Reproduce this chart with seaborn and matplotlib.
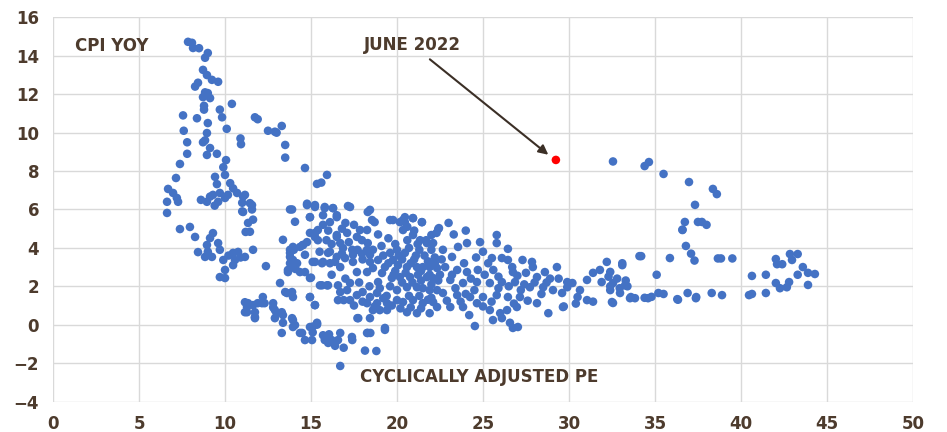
import matplotlib
matplotlib.use("Agg")
import matplotlib.pyplot as plt
import seaborn as sns
import pandas as pd

# (CAPE, CPI yoy) pairs, grouped roughly by region
left_arm = [
    (7.85, 14.73), (8.08, 14.68), (8.14, 14.41), (8.49, 14.4), (9.0, 14.15), (8.84, 13.9),
    (8.72, 13.27), (8.95, 13.0), (9.24, 12.75), (9.6, 12.65), (8.43, 12.6), (8.26, 12.4),
    (8.84, 12.1), (9.0, 12.06), (8.72, 11.85), (9.13, 11.8), (10.4, 11.5), (9.7, 11.2),
    (7.56, 10.9), (8.78, 11.4), (8.78, 11.2), (8.37, 10.75), (9.0, 10.5), (9.83, 10.8),
    (10.1, 10.2), (7.6, 10.1), (8.95, 9.98), (8.84, 9.6), (8.72, 9.5), (7.8, 9.5),
    (10.9, 9.7), (10.93, 9.4), (9.13, 9.2), (7.8, 8.9), (8.95, 8.84), (9.53, 8.9),
    (7.38, 8.37), (10.06, 8.57), (9.9, 8.2), (10.0, 7.8), (7.15, 7.64), (9.42, 7.7),
    (9.53, 7.32), (10.3, 7.37), (10.47, 7.1), (6.69, 7.07), (6.98, 6.86), (7.2, 6.6),
    (7.27, 6.4), (6.63, 6.4), (6.63, 5.82), (9.13, 6.67), (9.3, 6.76), (9.7, 6.86),
    (10.17, 6.76), (10.7, 6.86), (8.95, 6.4), (9.6, 6.4), (10.0, 6.6), (11.05, 6.67),
    (11.0, 6.35), (11.05, 5.87), (11.2, 4.83), (7.38, 4.98), (7.96, 5.09), (8.26, 4.57),
    (9.13, 4.51), (9.3, 4.77), (8.95, 4.15), (8.43, 3.78), (8.84, 3.53), (9.24, 3.53),
    (9.6, 4.25), (9.7, 3.9), (9.9, 3.37), (10.0, 2.85), (9.7, 2.48), (10.0, 2.43),
    (10.47, 3.74), (10.76, 3.79), (11.16, 3.53), (10.58, 3.37), (10.47, 3.1),
    (9.0, 3.8), (10.2, 3.6), (10.9, 3.5), (8.6, 6.5), (9.4, 6.2),
]

mid_left = [
    (11.74, 10.8), (11.9, 10.7), (12.5, 10.1), (12.9, 10.05), (13.3, 10.35), (13.0, 10.0),
    (13.5, 9.36), (13.5, 8.7), (14.65, 8.16), (15.93, 7.8), (15.35, 7.33), (15.6, 7.4),
    (11.45, 6.33), (11.57, 6.0), (11.63, 5.47), (11.34, 5.3), (11.45, 4.84), (11.63, 3.9),
    (11.0, 5.9), (11.16, 6.76), (11.57, 6.23), (13.9, 6.0), (14.07, 5.36), (13.37, 4.42),
    (13.78, 3.9), (13.78, 3.53), (13.66, 2.85), (14.07, 2.95), (12.38, 3.05), (13.2, 2.17),
    (13.6, 1.65), (13.95, 1.44), (12.2, 1.44), (11.34, 1.12), (11.63, 1.02), (11.9, 1.12),
    (12.3, 1.12), (11.28, 0.65), (11.74, 0.65), (12.8, 0.9), (13.0, 0.6), (13.37, 0.5),
    (11.74, 0.34), (13.37, 0.1), (13.9, 0.34), (14.07, -0.02), (11.16, 1.17), (11.28, 0.92),
    (13.78, 6.0), (14.77, 6.23), (15.23, 6.13), (14.94, 5.6), (15.8, 6.07), (16.28, 6.07),
    (16.5, 5.6), (15.4, 4.93), (15.23, 4.57), (16.5, 4.57), (14.53, 4.15), (13.95, 4.05),
    (13.78, 3.74), (13.78, 3.2), (14.19, 3.2), (14.36, 2.74), (13.66, 2.74), (14.65, 2.74),
    (14.94, 2.43), (15.1, 3.27), (15.64, 3.2), (15.99, 3.74), (16.5, 3.53), (16.1, 3.2),
    (15.52, 2.05), (15.99, 2.05), (13.5, 1.7), (13.9, 1.7), (14.94, 1.44), (16.57, 1.28),
    (15.23, 1.02), (11.16, 0.65), (12.15, 1.12), (12.8, 1.12), (11.74, 0.4), (12.9, 0.76),
    (13.3, 0.65), (12.9, 0.34), (13.95, 0.24), (13.95, -0.12), (15.35, 0.0), (15.1, -0.1),
]

low_tail = [
    (13.3, -0.43), (14.36, -0.43), (14.65, -0.8), (15.06, -0.8), (15.35, 0.1), (15.8, -0.8),
    (16.2, -0.8), (16.57, -0.8), (16.7, -0.43), (16.0, -0.95), (16.4, -1.1), (16.7, -2.15),
    (17.4, -0.8), (18.14, -1.35), (18.8, -1.37), (18.26, -0.43), (18.45, -0.43), (19.3, -0.27),
    (17.7, 0.34), (14.48, -0.43), (15.1, -0.4), (15.7, -0.55), (16.05, -0.5), (17.38, -0.64),
    (18.3, -0.43), (14.94, -0.12), (15.35, 0.05), (19.3, -0.17), (16.9, -1.2),
]

cloud = [
    (14.77, 6.3), (15.23, 6.23), (15.8, 6.13), (16.28, 6.07), (17.15, 6.18), (18.43, 5.98),
    (18.55, 5.45), (14.94, 5.6), (15.7, 5.7), (16.5, 5.7), (16.1, 5.34), (17.0, 5.3),
    (17.85, 4.93), (15.7, 5.2), (15.23, 4.78), (14.94, 4.78), (15.4, 4.4), (16.5, 4.67),
    (17.1, 4.78), (17.67, 4.57), (18.26, 4.93), (17.96, 4.4), (18.3, 4.25), (16.7, 4.25),
    (16.86, 3.99), (17.4, 3.9), (18.26, 3.9), (14.77, 4.3), (14.36, 4.05), (14.0, 3.9),
    (14.53, 4.15), (13.95, 3.37), (14.65, 3.64), (14.1, 2.9), (15.0, 2.45), (15.23, 3.27),
    (15.7, 3.27), (16.1, 3.8), (16.4, 3.27), (16.7, 3.0), (16.98, 3.47), (17.44, 3.27),
    (17.67, 2.74), (17.44, 3.64), (17.96, 3.7), (18.43, 3.64), (18.9, 3.37), (18.43, 3.27),
    (18.6, 2.95), (18.26, 2.74), (18.9, 2.22), (19.13, 2.69), (19.6, 3.74), (19.77, 3.37),
    (20.0, 3.9), (20.17, 5.34), (20.46, 5.34), (20.46, 5.6), (20.93, 5.55), (21.45, 5.34),
    (19.6, 5.45), (20.35, 4.93), (20.93, 4.67), (21.34, 4.4), (21.74, 4.25), (20.46, 3.74),
    (20.06, 3.1), (20.58, 3.0), (21.16, 3.0), (21.5, 3.0), (21.9, 3.0), (22.33, 2.95),
    (19.7, 2.43), (20.17, 2.48), (20.76, 2.48), (21.22, 2.6), (21.74, 2.48), (22.1, 2.43),
    (20.0, 1.8), (20.58, 1.95), (21.16, 1.95), (21.5, 1.9), (21.9, 1.8), (22.33, 1.8),
    (16.7, 1.7), (17.1, 1.8), (17.27, 1.28), (17.67, 1.54), (18.0, 1.7), (18.43, 1.44),
    (18.84, 1.65), (19.2, 1.38), (16.9, 1.28), (18.26, 1.12), (18.84, 1.12), (19.42, 1.12),
    (20.0, 1.28), (20.35, 1.18), (20.93, 1.28), (21.5, 1.12), (22.1, 1.18), (18.6, 0.76),
    (19.0, 0.76), (19.42, 0.76), (20.58, 0.65), (21.16, 0.6), (21.9, 0.6), (18.43, 0.34),
    (17.75, 0.34), (14.94, 1.44), (15.23, 1.02), (15.64, 2.05), (15.93, 2.05), (16.57, 2.05),
    (17.27, 2.17), (17.27, 6.13), (18.3, 5.87), (18.7, 5.34), (19.77, 5.45), (20.35, 5.45),
    (20.93, 5.55), (21.45, 5.34), (20.6, 5.1), (22.0, 4.67), (22.4, 4.98), (21.0, 4.9),
    (21.7, 4.4), (19.1, 4.1), (19.5, 4.5), (18.9, 4.7), (19.3, 3.0), (19.9, 2.8),
    (20.3, 2.2), (20.9, 2.2), (21.4, 2.3), (22.0, 2.1), (19.6, 2.0), (19.0, 1.9),
    (20.3, 3.4), (21.0, 3.4), (21.6, 3.6), (22.2, 3.5), (20.7, 4.0), (21.3, 3.9),
    (22.0, 3.9), (19.4, 1.5), (20.7, 1.5), (21.3, 1.5), (22.0, 1.4), (16.2, 2.6),
    (17.0, 2.4), (17.8, 2.2), (18.4, 2.0), (16.0, 4.9), (16.8, 5.0), (17.5, 5.2),
    (19.2, 3.6), (19.5, 3.2), (19.8, 2.6), (20.1, 3.6), (20.5, 2.7), (20.8, 3.2),
    (21.1, 3.6), (21.4, 2.8), (21.8, 3.3), (22.2, 3.2), (22.6, 3.4), (22.4, 2.3),
    (21.9, 2.6), (20.6, 4.4), (21.2, 4.2), (19.9, 4.2), (15.5, 3.8), (16.2, 4.2),
    (17.2, 4.3), (17.7, 3.9), (18.0, 3.4), (18.6, 3.9), (16.8, 3.7), (15.9, 4.4),
    (17.5, 1.0), (18.0, 1.2), (18.7, 0.95), (19.7, 1.0), (20.2, 0.85), (20.8, 0.9),
    (21.4, 0.85), (21.8, 1.3),
]

right_cloud = [
    (22.44, 5.03), (22.3, 4.78), (22.1, 4.25), (22.67, 3.9), (23.2, 3.53), (23.55, 4.05),
    (24.07, 4.25), (24.83, 4.3), (25.0, 3.8), (25.8, 4.67), (25.8, 4.25), (26.45, 3.95),
    (25.52, 3.47), (26.1, 3.47), (26.45, 3.37), (27.3, 3.37), (27.85, 3.27), (28.6, 2.74),
    (29.3, 3.0), (29.9, 2.22), (22.8, 3.0), (23.5, 2.85), (24.07, 2.74), (24.7, 2.85),
    (25.6, 2.85), (26.74, 2.74), (27.5, 2.7), (28.14, 2.48), (23.1, 2.33), (23.84, 2.17),
    (24.65, 2.22), (25.4, 2.17), (26.1, 2.22), (26.86, 2.22), (27.73, 1.95), (28.5, 1.95),
    (29.07, 1.8), (29.6, 1.65), (22.67, 1.65), (23.5, 1.54), (24.25, 1.44), (25.0, 1.44),
    (25.8, 1.54), (26.45, 1.44), (27.15, 1.44), (28.14, 1.12), (28.8, 0.6), (29.65, 0.92),
    (22.33, 0.92), (23.1, 0.92), (23.84, 0.92), (24.65, 1.12), (25.4, 0.76), (26.0, 0.6),
    (26.4, 0.76), (26.97, 0.92), (25.58, 0.24), (26.1, 0.34), (26.57, 0.1), (26.74, -0.17),
    (27.03, -0.12), (24.53, -0.07), (23.3, 4.7), (24.0, 4.9), (23.0, 5.3), (24.6, 3.5),
    (23.9, 3.2), (22.5, 2.6), (25.3, 3.2), (26.7, 3.0), (27.9, 3.0), (28.9, 2.4),
    (23.4, 1.9), (24.5, 1.8), (25.9, 1.9), (27.2, 1.8), (28.4, 1.6), (23.7, 1.2),
    (27.6, 1.25), (22.9, 1.25), (24.2, 0.5), (25.0, 0.95),
    (23.2, 2.6), (24.3, 2.4), (25.1, 2.6), (25.9, 2.5), (26.5, 2.0), (27.0, 2.55),
    (27.4, 2.1), (28.0, 2.2), (28.7, 2.2), (29.4, 2.4), (24.0, 1.6), (25.5, 1.2),
    (26.8, 1.1),
]

far_right = [
    (32.2, 3.27), (33.1, 3.2), (34.1, 3.57), (31.8, 2.85), (31.4, 2.7), (32.4, 2.75),
    (31.05, 2.33), (31.9, 2.22), (32.56, 2.17), (33.26, 2.05), (30.2, 2.17), (29.9, 1.95),
    (30.64, 1.8), (32.4, 1.8), (32.97, 1.65), (33.55, 1.38), (33.84, 1.38), (30.5, 1.44),
    (31.05, 1.28), (31.4, 1.2), (30.4, 1.1), (29.7, 0.95), (32.5, 1.18), (35.1, 2.6),
    (35.87, 3.47), (35.2, 1.65), (35.5, 1.6), (34.6, 1.38), (36.3, 1.33), (36.9, 1.65),
    (37.4, 1.44), (38.3, 1.65), (36.6, 4.93), (36.8, 4.1), (37.1, 3.7), (37.3, 3.34),
    (38.66, 3.45), (32.56, 8.5), (34.4, 8.26), (34.65, 8.47), (35.5, 7.85), (36.98, 7.43),
    (38.37, 7.07), (38.6, 6.8), (37.33, 6.24), (36.74, 5.35), (36.6, 4.95), (37.5, 5.35),
    (37.73, 5.35), (38.0, 5.2), (34.2, 3.57), (38.84, 3.45), (39.5, 3.45), (33.1, 3.1),
    (32.3, 2.5), (32.8, 2.4), (33.3, 2.3), (33.4, 2.0), (32.4, 2.0), (32.95, 1.9),
    (33.6, 1.44), (34.4, 1.4), (34.8, 1.45), (36.34, 1.3), (37.38, 1.38), (38.9, 1.54),
    (40.47, 1.54), (40.64, 1.6), (41.45, 1.65), (40.64, 2.54), (41.45, 2.6), (42.03, 2.17),
    (42.27, 1.9), (42.67, 1.95), (42.8, 2.22), (43.3, 2.6), (43.9, 2.07), (42.03, 3.42),
    (42.1, 3.15), (42.4, 3.15), (42.85, 3.68), (42.97, 3.37), (43.3, 3.68), (43.6, 3.0),
    (43.9, 2.7), (44.3, 2.64), (32.56, 1.13),
]

june_2022_cape = [29.24]
june_2022_cpi = [8.58]

pts = left_arm + mid_left + low_tail + cloud + right_cloud + far_right
df = pd.DataFrame(pts, columns=["cape", "cpi"])
red = pd.DataFrame({"cape": june_2022_cape, "cpi": june_2022_cpi})

sns.set_theme(style="white")
plt.rcParams["font.family"] = ["DejaVu Sans"]
brown = "#4d3b2d"

fig = plt.figure(figsize=(9.47, 4.32), dpi=100)
ax = fig.add_axes([0.056, 0.0706, 0.908, 0.889])

sns.scatterplot(data=df, x="cape", y="cpi", ax=ax, color="#4472C4", s=38,
                edgecolor="none", zorder=3, legend=False)
sns.scatterplot(data=red, x="cape", y="cpi", ax=ax, color="#FF0000", s=38,
                edgecolor="none", zorder=4, legend=False)

ax.set_xlim(0, 50)
ax.set_ylim(-4, 16)
ax.set_xticks(range(0, 51, 5))
ax.set_yticks(range(-4, 17, 2))
ax.grid(True, color="#d9d9d9", linewidth=1)
ax.set_axisbelow(True)
for s in ax.spines.values():
    s.set_visible(False)
ax.tick_params(length=0, labelsize=12, labelcolor=brown, pad=10)
for lab in ax.get_xticklabels() + ax.get_yticklabels():
    lab.set_fontweight("bold")
ax.set_xlabel("")
ax.set_ylabel("")

ax.text(1.3, 14.5, "CPI YOY", fontsize=12, fontweight="bold", color=brown, va="center")
ax.text(24.8, -2.75, "CYCLICALLY ADJUSTED PE", fontsize=12, fontweight="bold",
        color=brown, ha="center", va="center")
ax.annotate("JUNE 2022", xy=(28.8, 8.85), xytext=(20.9, 14.55),
            fontsize=12, fontweight="bold", color=brown, ha="center", va="center",
            arrowprops=dict(arrowstyle="-|>", color="#3b2f26", lw=1.5,
                            shrinkA=2, shrinkB=0, mutation_scale=14))

fig.savefig("out.png", dpi=100)
